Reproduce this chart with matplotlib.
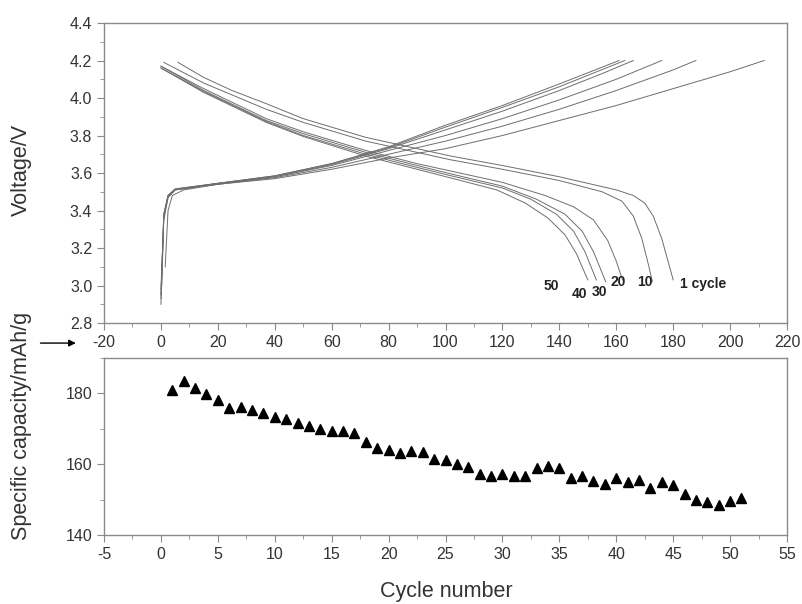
import matplotlib.pyplot as plt
from matplotlib.ticker import MultipleLocator

plt.rcParams['font.family'] = ['Liberation Sans', 'DejaVu Sans']
plt.rcParams['axes.unicode_minus'] = False

# ---- top panel: charge / discharge curves (capacity mAh/g, voltage V) ----
cycles = ['1', '10', '20', '30', '40', '50']

charge_cap = {
    '1':  [1.5, 2.5, 4, 8, 20, 40, 60, 80, 100, 120, 140, 160, 180, 200, 212],
    '10': [0.3, 1, 2.5, 5, 20, 40, 60, 80, 100, 120, 140, 160, 180, 188],
    '20': [0, 1, 2.5, 5, 20, 40, 60, 80, 100, 120, 140, 160, 176],
    '30': [0, 1, 2.5, 5, 20, 40, 60, 80, 100, 120, 140, 155, 166],
    '40': [0, 1, 2.5, 5, 20, 40, 60, 80, 100, 120, 140, 163],
    '50': [0, 1, 2.5, 5, 20, 40, 60, 80, 100, 120, 140, 161],
}
charge_v = {
    '1':  [3.10, 3.40, 3.48, 3.51, 3.54, 3.57, 3.62, 3.68, 3.73, 3.80, 3.88, 3.96, 4.05, 4.14, 4.20],
    '10': [3.00, 3.35, 3.47, 3.51, 3.54, 3.575, 3.63, 3.70, 3.77, 3.85, 3.94, 4.04, 4.15, 4.20],
    '20': [2.98, 3.36, 3.47, 3.51, 3.54, 3.58, 3.64, 3.72, 3.80, 3.89, 3.99, 4.10, 4.20],
    '30': [2.95, 3.37, 3.48, 3.51, 3.545, 3.58, 3.645, 3.73, 3.83, 3.93, 4.04, 4.13, 4.20],
    '40': [2.93, 3.38, 3.48, 3.515, 3.545, 3.585, 3.65, 3.735, 3.845, 3.95, 4.06, 4.20],
    '50': [2.90, 3.38, 3.48, 3.515, 3.545, 3.585, 3.65, 3.74, 3.855, 3.96, 4.075, 4.20],
}

discharge_cap = {
    '1':  [6, 15, 25, 37, 50, 72, 90, 102, 120, 140, 160, 166, 170, 173, 176, 178, 180],
    '10': [1, 15, 37, 50, 72, 90, 102, 120, 140, 155, 162, 166, 169, 171, 172.7],
    '20': [0, 15, 37, 50, 72, 90, 102, 120, 135, 145, 152, 157, 160, 162.2],
    '30': [0, 15, 37, 50, 72, 90, 102, 120, 132, 142, 148, 152, 156.3],
    '40': [0, 15, 37, 50, 72, 90, 102, 120, 130, 139, 145, 149, 153],
    '50': [0, 15, 37, 50, 72, 90, 102, 118, 128, 136, 142, 146, 150],
}
discharge_v = {
    '1':  [4.19, 4.11, 4.04, 3.97, 3.89, 3.79, 3.73, 3.69, 3.64, 3.58, 3.51, 3.48, 3.44, 3.37, 3.25, 3.14, 3.03],
    '10': [4.19, 4.08, 3.94, 3.87, 3.77, 3.71, 3.67, 3.62, 3.56, 3.50, 3.45, 3.37, 3.25, 3.13, 3.02],
    '20': [4.17, 4.05, 3.89, 3.82, 3.72, 3.65, 3.61, 3.55, 3.48, 3.42, 3.35, 3.24, 3.13, 3.03],
    '30': [4.17, 4.04, 3.88, 3.81, 3.71, 3.64, 3.595, 3.53, 3.46, 3.38, 3.29, 3.18, 3.02],
    '40': [4.16, 4.035, 3.875, 3.80, 3.70, 3.63, 3.585, 3.52, 3.46, 3.38, 3.29, 3.18, 3.03],
    '50': [4.16, 4.03, 3.87, 3.795, 3.69, 3.62, 3.573, 3.51, 3.44, 3.36, 3.27, 3.17, 3.03],
}

curve_labels = ['1 cycle', '10', '20', '30', '40', '50']
label_x = [182.5, 167.5, 158, 151.5, 144.5, 134.5]
label_y = [3.01, 3.02, 3.02, 2.965, 2.955, 3.00]

# ---- bottom panel: capacity vs cycle number ----
cycle_no = list(range(1, 52))
spec_cap = [180.9, 183.5, 181.5, 179.9, 178.0, 175.8, 176.1, 175.4, 174.4, 173.3,
            172.8, 171.5, 170.7, 169.9, 169.4, 169.4, 168.7, 166.3, 164.7, 163.9,
            163.1, 163.7, 163.4, 161.5, 161.1, 160.1, 159.3, 157.2, 156.6, 157.2,
            156.6, 156.8, 159.0, 159.4, 159.0, 156.1, 156.6, 155.3, 154.5, 156.1,
            155.1, 155.6, 153.4, 155.1, 154.2, 151.5, 149.8, 149.2, 148.5, 149.6,
            150.4]

spine_c = '#8a8a8a'
text_c = '#333333'

fig = plt.figure(figsize=(8.02, 6.04), dpi=100)
ax1 = fig.add_axes([0.1297, 0.4652, 0.8516, 0.4967])
ax2 = fig.add_axes([0.1297, 0.1142, 0.8516, 0.2931])

for c in cycles:
    ax1.plot(charge_cap[c], charge_v[c], color='#6e6e6e', lw=0.7)
    ax1.plot(discharge_cap[c], discharge_v[c], color='#6e6e6e', lw=0.7)

for lab, x, y in zip(curve_labels, label_x, label_y):
    ax1.text(x, y, lab, fontsize=10, fontweight='bold', color='#222222',
             ha='left', va='center')

ax1.set_xlim(-20, 220)
ax1.set_ylim(2.8, 4.4)
ax1.xaxis.set_major_locator(MultipleLocator(20))
ax1.xaxis.set_minor_locator(MultipleLocator(10))
ax1.yaxis.set_major_locator(MultipleLocator(0.2))
ax1.yaxis.set_minor_locator(MultipleLocator(0.1))
ax1.yaxis.set_major_formatter(plt.FormatStrFormatter('%.1f'))

ax2.plot(cycle_no, spec_cap, linestyle='none', marker='^', color='black',
         markersize=7)
ax2.set_xlim(-5, 55)
ax2.set_ylim(140, 190)
ax2.xaxis.set_major_locator(MultipleLocator(5))
ax2.xaxis.set_minor_locator(MultipleLocator(2.5))
ax2.yaxis.set_major_locator(MultipleLocator(20))
ax2.yaxis.set_minor_locator(MultipleLocator(10))

for ax in (ax1, ax2):
    for s in ax.spines.values():
        s.set_color(spine_c)
        s.set_linewidth(1.0)
    ax.tick_params(which='major', direction='out', length=5, color=spine_c,
                   labelsize=11.5, labelcolor=text_c)
    ax.tick_params(which='minor', direction='out', length=3, color=spine_c)

fig.text(0.027, 0.7185, 'Voltage/V', rotation=90, ha='center', va='center',
         fontsize=15.5, color=text_c)
fig.text(0.027, 0.295, 'Specific capacity/mAh/g', rotation=90, ha='center',
         va='center', fontsize=15.5, color=text_c)
fig.text(0.556, 0.02, 'Cycle number', ha='center', va='center',
         fontsize=15.5, color=text_c)

fig.patches.append(plt.matplotlib.patches.FancyArrowPatch(
    (0.047, 0.432), (0.098, 0.432), transform=fig.transFigure,
    arrowstyle='-|>', mutation_scale=10, color='black', lw=1))

fig.savefig('out.png', dpi=100)
